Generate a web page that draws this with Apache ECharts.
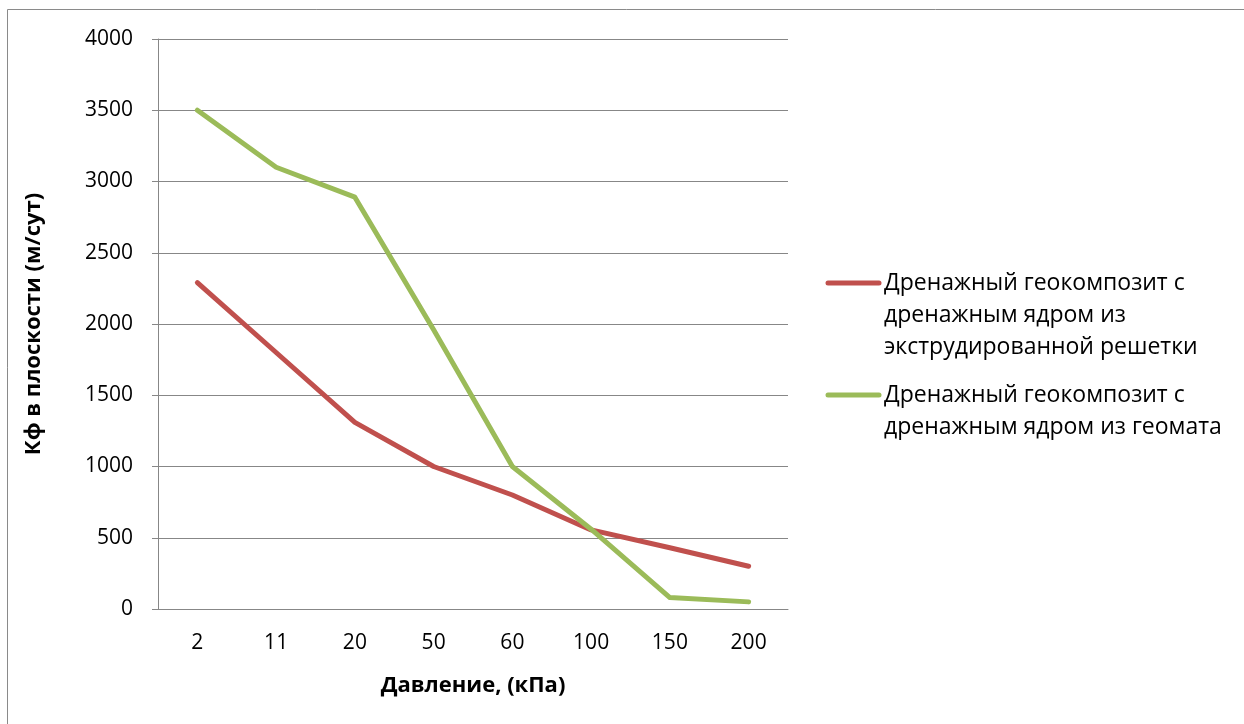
<!DOCTYPE html>
<html>
<head>
<meta charset="utf-8">
<script src="https://cdn.jsdelivr.net/npm/echarts@6/dist/echarts.min.js"></script>
<style>html,body{margin:0;padding:0;background:#fff}#c{width:1244px;height:724px}</style>
</head>
<body>
<div id="c"></div>
<script>
var categories = ['2', '11', '20', '50', '60', '100', '150', '200'];
var seriesNames = [
  'Дренажный геокомпозит с\nдренажным ядром из\nэкструдированной решетки',
  'Дренажный геокомпозит с\nдренажным ядром из геомата'
];
var redValues = [2290, 1800, 1310, 1000, 800, 555, 430, 300];
var greenValues = [3500, 3100, 2890, 1960, 1000, 560, 80, 50];
var yTicks = [0, 500, 1000, 1500, 2000, 2500, 3000, 3500, 4000];
var xTitle = 'Давление, (кПа)';
var yTitle = 'Кф в плоскости (м/сут)';

var FONT = 'Open Sans, Liberation Sans, sans-serif';
var colors = ['#C0504D', '#9BBB59'];
var chart = echarts.init(document.getElementById('c'));
chart.setOption({
  animation: false,
  backgroundColor: '#fff',
  grid: { left: 158, right: 456, top: 39, bottom: 115 },
  xAxis: {
    type: 'category',
    data: categories,
    boundaryGap: true,
    name: xTitle,
    nameLocation: 'middle',
    nameGap: 66,
    nameTextStyle: { fontFamily: FONT, fontSize: 22, fontWeight: 'bold', color: '#000' },
    axisLine: { lineStyle: { color: '#878787', width: 1 } },
    axisTick: { show: false },
    axisLabel: { fontFamily: FONT, fontSize: 21, color: '#000', margin: 24 }
  },
  yAxis: {
    type: 'value',
    min: yTicks[0],
    max: yTicks[yTicks.length - 1],
    interval: yTicks[1] - yTicks[0],
    name: yTitle,
    nameLocation: 'middle',
    nameGap: 113,
    nameRotate: 90,
    nameTextStyle: { fontFamily: FONT, fontSize: 22, fontWeight: 'bold', color: '#000' },
    axisLine: { show: true, lineStyle: { color: '#878787', width: 1 } },
    axisTick: { show: true, length: 6, lineStyle: { color: '#878787' } },
    splitLine: { lineStyle: { color: '#878787', width: 1 } },
    axisLabel: { fontFamily: FONT, fontSize: 21, color: '#000', margin: 25, formatter: function (v) { return String(v); } }
  },
  series: [
    { name: seriesNames[0], type: 'line', data: redValues, symbol: 'none',
      lineStyle: { color: colors[0], width: 5, cap: 'round', join: 'round' }, itemStyle: { color: colors[0] } },
    { name: seriesNames[1], type: 'line', data: greenValues, symbol: 'none',
      lineStyle: { color: colors[1], width: 5, cap: 'round', join: 'round' }, itemStyle: { color: colors[1] } }
  ],
  graphic: [
    { type: 'rect', shape: { x: 7.5, y: 9.5, width: 1400, height: 900 }, style: { fill: 'none', stroke: '#8a8a8a', lineWidth: 1 }, silent: true, z: -1 },
    { type: 'line', shape: { x1: 828, y1: 283, x2: 879, y2: 283 }, style: { stroke: colors[0], lineWidth: 5, lineCap: 'round' } },
    { type: 'text', left: 884, top: 267, style: { text: seriesNames[0], fontFamily: FONT, fontSize: 23, lineHeight: 32, fill: '#000' } },
    { type: 'line', shape: { x1: 828, y1: 395, x2: 879, y2: 395 }, style: { stroke: colors[1], lineWidth: 5, lineCap: 'round' } },
    { type: 'text', left: 884, top: 379, style: { text: seriesNames[1], fontFamily: FONT, fontSize: 23, lineHeight: 32, fill: '#000' } }
  ]
});
</script>
</body>
</html>
